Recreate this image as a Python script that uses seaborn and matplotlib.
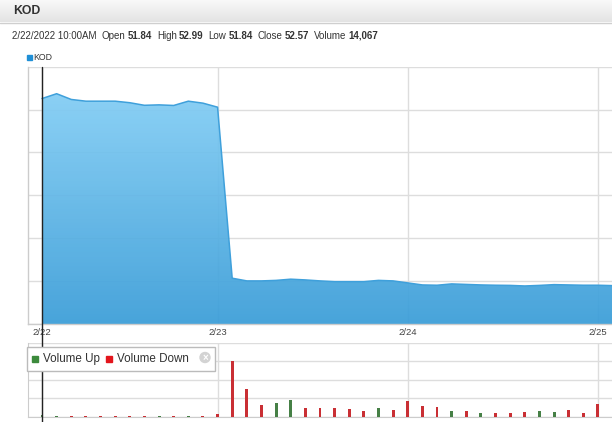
import numpy as np
import pandas as pd
import matplotlib
matplotlib.use("Agg")
import matplotlib.pyplot as plt
import matplotlib.transforms as mtransforms
from matplotlib.colors import LinearSegmentedColormap
from matplotlib.lines import Line2D
from matplotlib.patches import Rectangle, Circle
import seaborn as sns

# 30-minute bars, 2/22 10:00AM onwards
bar_price = list(range(40))
price = [52.57, 53.70, 52.36, 51.96, 51.96, 51.96, 51.60, 51.00, 51.10, 50.96,
         51.96, 51.50, 50.56, 10.68, 10.05, 10.05, 10.17, 10.45, 10.28, 10.05,
         9.88, 9.88, 9.88, 10.17, 10.05, 9.58, 9.11, 9.04, 9.35, 9.23,
         9.11, 9.04, 9.00, 8.87, 9.00, 9.18, 9.11, 9.04, 9.04, 8.95]

bar_vol = list(range(39))
volume = [14067, 12000, 11000, 9000, 8000, 9000, 8000, 10000, 9000, 11000,
          9000, 12000, 32000, 605000, 300000, 126000, 151000, 180000, 97000, 97000,
          95000, 80000, 62000, 97000, 68000, 170000, 119000, 108000, 62000, 62000,
          40000, 40000, 40000, 54000, 62000, 51000, 68000, 40000, 140000]
direction = ["Up", "Up", "Down", "Down", "Down", "Down", "Down", "Down", "Up", "Down",
             "Up", "Down", "Down", "Down", "Down", "Down", "Up", "Up", "Down", "Down",
             "Down", "Down", "Down", "Up", "Down", "Down", "Down", "Down", "Up", "Down",
             "Up", "Down", "Down", "Down", "Up", "Up", "Down", "Down", "Down"]

day_ticks = [0, 12, 25, 38]
day_labels = ["2/22", "2/23", "2/24", "2/25"]

info_labels = ["Open", "High", "Low", "Close", "Volume"]
info_values = ["51.84", "52.99", "51.84", "52.57", "14,067"]
info_date = "2/22/2022 10:00AM"

sns.set_style("white")
plt.rcParams["font.family"] = ["Liberation Sans", "DejaVu Sans"]

W, H = 612, 422
fig = plt.figure(figsize=(W / 100, H / 100), dpi=100)
ax = fig.add_axes([28 / W, 1 - 324 / H, 584 / W, (324 - 66.7) / H])
axv = fig.add_axes([28 / W, 1 - 416.7 / H, 584 / W, (416.7 - 342.7) / H])
xlim = (-0.957, 38.96)

# price area
pdf = pd.DataFrame({"bar": bar_price, "price": price})
sns.lineplot(data=pdf, x="bar", y="price", ax=ax, color="#3FA0DB", lw=1.1, zorder=3)
fill = ax.fill_between(pdf["bar"], pdf["price"], 0, facecolor="none", edgecolor="none")
cmap = LinearSegmentedColormap.from_list("kod", ["#3A9DD8", "#8BD3F8"])
grad = np.linspace(1, 0, 256).reshape(-1, 1)
im = ax.imshow(grad, extent=[xlim[0], xlim[1], 0, 60], aspect="auto", cmap=cmap,
               vmin=0, vmax=1, origin="upper", zorder=2, alpha=0.93)
im.set_clip_path(fill.get_paths()[0], transform=ax.transData)
ax.set_xlim(xlim)
ax.set_ylim(0, 60)
ax.set_yticks(range(0, 61, 10))
ax.set_xticks(day_ticks)
ax.set_xticklabels(day_labels)
ax.grid(True, color="#dddddd", lw=1)
ax.set_axisbelow(True)
ax.tick_params(length=0, labelsize=6.8, colors="#444444", pad=3, labelleft=False)
ax.set_xlabel("")
ax.set_ylabel("")
for s in ["top", "right"]:
    ax.spines[s].set_visible(False)
for s in ["left", "bottom"]:
    ax.spines[s].set_color("#cccccc")
    ax.spines[s].set_linewidth(1)

# volume bars
vdf = pd.DataFrame({"bar": bar_vol, "volume": volume, "direction": direction})
sns.barplot(data=vdf, x="bar", y="volume", hue="direction",
            palette={"Up": "#3C8A3C", "Down": "#E3151C"}, native_scale=True,
            width=0.2, dodge=False, legend=False, ax=axv, zorder=3, linewidth=0)
axv.set_xlim(xlim)
axv.set_ylim(0, 800000)
axv.set_yticks(range(0, 800001, 200000))
axv.set_xticks(day_ticks)
axv.grid(True, color="#dddddd", lw=1)
axv.set_axisbelow(True)
axv.tick_params(length=0, labelleft=False, labelbottom=False)
axv.set_xlabel("")
axv.set_ylabel("")
for s in ["top", "right"]:
    axv.spines[s].set_visible(False)
for s in ["left", "bottom"]:
    axv.spines[s].set_color("#cccccc")

# crosshair at the first bar
trans = mtransforms.blended_transform_factory(ax.transData, fig.transFigure)
fig.add_artist(Line2D([0, 0], [1 - 66.7 / H, 0], transform=trans, color="#222222", lw=1, zorder=10))

# overlay in pixel coordinates for header and legends
ov = fig.add_axes([0, 0, 1, 1], zorder=20)
ov.axis("off")
ov.patch.set_visible(False)

hdr = np.linspace(0, 1, 50).reshape(-1, 1)
ov.imshow(hdr, extent=[0, W, 22, 0], aspect="auto", origin="upper",
          cmap=LinearSegmentedColormap.from_list("hdr", ["#f9f9f9", "#e3e3e3"]))
ov.add_line(Line2D([0, W], [22.5, 22.5], color="#cfcfcf", lw=1))
ov.set_xlim(0, W)
ov.set_ylim(H, 0)
ov.text(13, 11.5, "KOD", fontsize=8.8, fontweight="bold", color="#333333", va="center")

# info line, pieces placed one after another
fig.canvas.draw()
renderer = fig.canvas.get_renderer()
pieces = [(info_date, False, 6)]
for lab, val in zip(info_labels, info_values):
    pieces.append((lab, False, 2))
    pieces.append((val, True, 5))
x = 11.5
for t, b, gap in pieces:
    txt = ov.text(x, 36, t, fontsize=7.0, color="#333333", va="center",
                  fontweight="bold" if b else "normal")
    x += txt.get_window_extent(renderer).width + gap

ov.add_patch(Rectangle((27, 55.3), 5, 5, color="#1F8FD6"))
ov.text(33.5, 58, "KOD", fontsize=6.3, color="#333333", va="center")

ov.add_patch(Rectangle((27, 347.3), 188, 23.4, facecolor="white", edgecolor="#bbbbbb", lw=1))
ov.add_patch(Rectangle((32, 355.5), 6, 6, color="#3C8A3C"))
ov.text(43, 358.8, "Volume Up", fontsize=8.4, color="#333333", va="center")
ov.add_patch(Rectangle((106, 355.5), 6, 6, color="#E3151C"))
ov.text(117, 358.8, "Volume Down", fontsize=8.4, color="#333333", va="center")
ov.add_patch(Circle((205, 357.5), 5, color="#d3d3d3"))
ov.text(205, 357.7, "×", fontsize=7, color="white", ha="center", va="center", fontweight="bold")

fig.savefig("out.png", dpi=100)
